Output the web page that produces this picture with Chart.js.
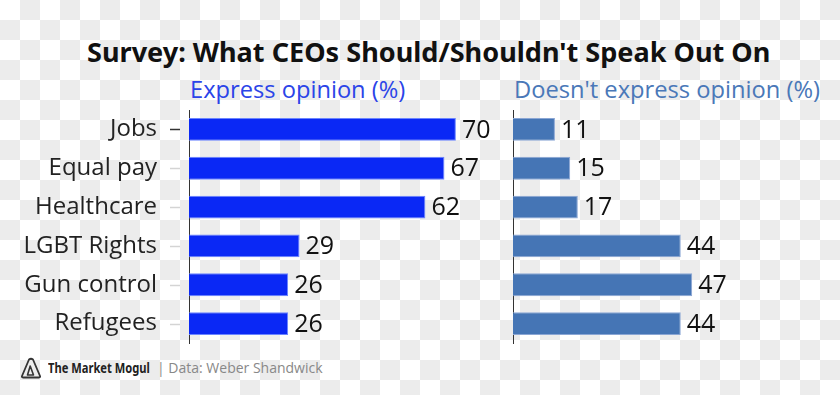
<!DOCTYPE html>
<html>
<head>
<meta charset="utf-8">
<script src="https://cdn.jsdelivr.net/npm/chart.js@4.4.1/dist/chart.umd.min.js"></script>
<style>
  html, body { margin:0; padding:0; }
  body {
    width:840px; height:395px; overflow:hidden; position:relative;
    background-color:#fff;
    background-image: conic-gradient(#ececec 25%, #fff 0 50%, #ececec 0 75%, #fff 0);
    background-size:40px 40px;
    font-family:"Open Sans", sans-serif;
  }
  .txt { position:absolute; white-space:nowrap; transform-origin:0 0; }
  #title { left:87px; top:38px; font:700 27px/27px "Noto Sans", sans-serif; color:#111; }
  #sub1 { left:190px; top:77px; font:400 24px/24px "Open Sans", sans-serif; color:#2b44e8; }
  #sub2 { left:514px; top:77px; font:400 24px/24px "Open Sans", sans-serif; color:#4a78b8; }
  #brand { left:48px; top:361px; font:700 14px/14px "Noto Sans", sans-serif; color:#222; }
  #source { left:157px; top:361px; font:400 14px/14px "Open Sans", sans-serif; color:#888; }
  #logo { position:absolute; left:20px; top:357px; }
  canvas { position:absolute; }
  #c1 { left:0; top:100px; }
  #c2 { left:500px; top:100px; }
</style>
</head>
<body>
<div id="title" class="txt">Survey: What CEOs Should/Shouldn't Speak Out On</div>
<div id="sub1" class="txt">Express opinion (%)</div>
<div id="sub2" class="txt">Doesn't express opinion (%)</div>
<svg id="logo" width="22" height="22" viewBox="0 0 22 22">
  <path d="M9 2.5 Q11 1 13 2.5 L20 19 Q20.5 20.5 19 20.5 L3 20.5 Q1.5 20.5 2 19 Z" fill="none" stroke="#333" stroke-width="1.8" stroke-linejoin="round"/>
  <path d="M10.2 9 L7.5 18 L13.5 18 Z" fill="none" stroke="#333" stroke-width="1.6" stroke-linejoin="round"/>
</svg>
<div id="brand" class="txt">The Market Mogul</div>
<div id="source" class="txt">| Data: Weber Shandwick</div>
<canvas id="c1" width="500" height="253"></canvas>
<canvas id="c2" width="340" height="253"></canvas>
<script>
const categories = ['Jobs', 'Equal pay', 'Healthcare', 'LGBT Rights', 'Gun control', 'Refugees'];
const expressValues = [70, 67, 62, 29, 26, 26];
const notExpressValues = [11, 15, 17, 44, 47, 44];

function fit(id, w) {
  const el = document.getElementById(id);
  el.style.transform = 'scaleX(' + (w / el.offsetWidth) + ')';
}
fit('title', 683);
fit('sub1', 215);
fit('sub2', 306);
fit('brand', 102);
fit('source', 166);

const valueLabels = {
  id: 'valueLabels',
  afterDatasetsDraw(chart) {
    const ctx = chart.ctx;
    const meta = chart.getDatasetMeta(0);
    const vals = chart.data.datasets[0].data;
    ctx.save();
    ctx.font = '400 25px "Open Sans", sans-serif';
    ctx.fillStyle = '#111';
    ctx.textAlign = 'left';
    ctx.textBaseline = 'middle';
    meta.data.forEach((bar, i) => ctx.fillText(String(vals[i]), bar.x + 6, bar.y + 1));
    ctx.restore();
  }
};

const tickDashes = {
  id: 'tickDashes',
  afterDraw(chart) {
    const ctx = chart.ctx;
    const ys = chart.scales.y;
    const left = chart.chartArea.left;
    ctx.save();
    ctx.lineWidth = 1.5;
    ys.ticks.forEach((t, i) => {
      const py = Math.round(ys.getPixelForTick(i)) + 0.5;
      ctx.strokeStyle = i === 0 ? '#333' : '#d4d4d4';
      ctx.beginPath();
      ctx.moveTo(left - 19, py);
      ctx.lineTo(left - 9, py);
      ctx.stroke();
    });
    ctx.restore();
  }
};

function makeChart(id, values, color, border, yWidth, padRight, showLabels, extra) {
  return new Chart(document.getElementById(id), {
    type: 'bar',
    data: {
      labels: categories,
      datasets: [{
        data: values,
        backgroundColor: color,
        borderColor: border,
        borderWidth: 1,
        categoryPercentage: 1,
        barPercentage: 0.59
      }]
    },
    options: {
      indexAxis: 'y',
      responsive: false,
      animation: false,
      layout: { padding: { top: 10, bottom: 10, left: 0, right: padRight } },
      plugins: { legend: { display: false }, tooltip: { enabled: false } },
      scales: {
        x: { display: false, min: 0, max: 80 },
        y: {
          afterFit(s) { s.width = yWidth; s.paddingTop = 0; s.paddingBottom = 0; },
          grid: { display: true, drawOnChartArea: false, drawTicks: true, tickLength: 32, color: 'rgba(0,0,0,0)' },
          border: { display: true, color: '#333', width: 1 },
          ticks: {
            display: showLabels,
            autoSkip: false,
            padding: 0,
            color: '#222',
            font: { family: 'Open Sans', size: 24 }
          }
        }
      }
    },
    plugins: extra
  });
}

makeChart('c1', expressValues, '#0a28f5', '#6a84ff', 189, 6, true, [valueLabels, tickDashes]);
makeChart('c2', notExpressValues, '#4575b5', '#8aa6d4', 13, 22, false, [valueLabels]);
</script>
</body>
</html>
